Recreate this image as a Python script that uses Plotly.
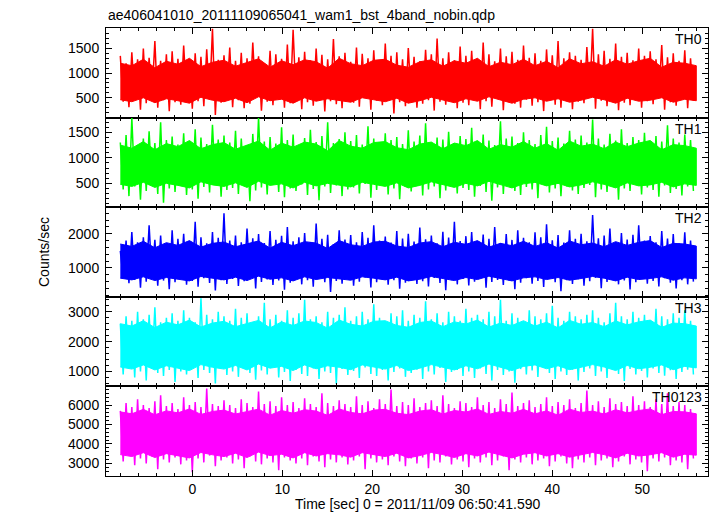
import plotly.graph_objects as go

# ---------------- data ----------------
T_START = -8.0      # sec, first sample
T_STEP = 0.32       # sec between consecutive samples (alternating max / min)
T_CORE = 1.28       # sec between samples of the dense-core envelope

panel_names = ["TH0", "TH1", "TH2", "TH3", "TH0123"]
panel_colors = ["#ff0000", "#00ff00", "#0000ff", "#00ffff", "#ff00ff"]

th0_hi = [1350, 1200, 1420, 1280, 1500, 1310, 1650, 1250, 1380, 1440,
          1290, 1560, 1230, 1400, 1330, 1480, 1900, 1270, 1360, 1520,
          1250, 1410, 1300, 1620, 1340, 1200, 1450, 1380, 1290, 1580,
          1880, 1320, 1430, 1260, 1500, 1370, 1280, 1690, 1340, 1410,
          1230, 1520, 1390, 1300, 1460, 1250, 1600, 1350, 1420, 1280,
          1510, 1330, 1240, 1470, 1380, 1700, 1300, 1420, 1260, 1540,
          1350, 1450, 1290, 1620, 1380, 1240, 1500, 1340, 1430, 1270,
          1560, 1310, 1400, 1250, 1480, 1360, 1650, 1300, 1420, 1350,
          1270, 1530, 1900, 1380, 1450, 1290, 1600, 1330, 1410, 1260,
          1500, 1350, 1440, 1280, 1570, 1320, 1400, 1250, 1460, 1300]
th0_lo = [420, 310, 480, 260, 390, 520, 300, 450, 230, 410,
          360, 500, 280, 430, 330, 470, 150, 400, 540, 310,
          450, 290, 380, 500, 240, 420, 350, 460, 300, 390,
          510, 270, 410, 340, 480, 220, 430, 370, 290, 460,
          400, 320, 520, 260, 440, 350, 470, 180, 410, 330,
          490, 300, 380, 450, 240, 420, 360, 510, 290, 400,
          350, 470, 270, 430, 320, 500, 250, 440, 380, 300,
          460, 340, 410, 230, 480, 360, 300, 450, 270, 420,
          390, 510, 280, 440, 330, 470, 250, 400, 350, 460,
          300, 430, 370, 520, 260, 410, 340, 480, 290, 440]
th0_core_top = [1200, 1150, 1280, 1110, 1240, 1180, 1300, 1130, 1220, 1260,
                1140, 1210, 1290, 1120, 1250, 1170, 1270, 1230, 1100, 1300,
                1190, 1150, 1260, 1280, 1160, 1120, 1230, 1270, 1140, 1250,
                1200, 1300, 1130, 1220, 1170, 1280, 1150, 1240, 1110, 1290,
                1190, 1230, 1140, 1270, 1180, 1250, 1300, 1120, 1220, 1200, 1150]
th0_core_bot = [460, 420, 500, 400, 480, 440, 390, 510, 450, 420,
                490, 400, 520, 440, 470, 390, 500, 430, 480, 450,
                410, 500, 460, 420, 490, 390, 440, 510, 460, 400,
                480, 430, 520, 450, 390, 470, 500, 430, 480, 410,
                450, 510, 460, 390, 490, 430, 450, 500, 410, 470, 440]

th1_hi = [1300, 1450, 1780, 1250, 1380, 1520, 1290, 1700, 1350, 1420,
          1260, 1480, 1330, 1560, 1400, 1270, 1650, 1360, 1440, 1300,
          1530, 1380, 1250, 1470, 1790, 1320, 1410, 1280, 1600, 1350,
          1460, 1240, 1390, 1550, 1310, 1430, 1700, 1290, 1370, 1500,
          1330, 1450, 1260, 1620, 1380, 1300, 1480, 1350, 1410, 1270,
          1540, 1320, 1440, 1680, 1290, 1400, 1360, 1510, 1250, 1430,
          1370, 1590, 1300, 1460, 1340, 1250, 1720, 1380, 1420, 1290,
          1500, 1350, 1270, 1450, 1610, 1330, 1400, 1280, 1530, 1360,
          1440, 1300, 1750, 1380, 1260, 1470, 1340, 1560, 1290, 1410,
          1350, 1490, 1270, 1430, 1320, 1640, 1380, 1300, 1460, 1350]
th1_lo = [380, 250, 440, 180, 350, 470, 290, 120, 400, 330,
          460, 270, 380, 200, 430, 320, 480, 240, 370, 410,
          290, 450, 150, 360, 420, 280, 470, 330, 230, 400,
          350, 480, 270, 390, 170, 440, 310, 460, 250, 380,
          420, 300, 490, 220, 370, 450, 280, 400, 190, 430,
          340, 470, 260, 380, 440, 210, 360, 480, 300, 410,
          370, 240, 450, 330, 160, 420, 290, 460, 350, 270,
          430, 380, 210, 470, 320, 400, 250, 440, 360, 290,
          410, 470, 230, 380, 330, 450, 180, 400, 350, 480,
          280, 420, 370, 240, 460, 310, 390, 260, 440, 350]
th1_core_top = [1250, 1190, 1320, 1160, 1280, 1220, 1340, 1180, 1260, 1300,
                1170, 1250, 1330, 1150, 1290, 1210, 1310, 1270, 1140, 1340,
                1230, 1190, 1300, 1320, 1200, 1160, 1270, 1310, 1180, 1290,
                1240, 1340, 1170, 1260, 1210, 1320, 1190, 1280, 1150, 1330,
                1230, 1270, 1180, 1310, 1220, 1290, 1340, 1160, 1260, 1240, 1190]
th1_core_bot = [480, 440, 520, 420, 500, 460, 410, 530, 470, 440,
                510, 420, 540, 460, 490, 410, 520, 450, 500, 470,
                430, 520, 480, 440, 510, 410, 460, 530, 480, 420,
                500, 450, 540, 470, 410, 490, 520, 450, 500, 430,
                470, 530, 480, 410, 510, 450, 470, 520, 430, 490, 460]

th2_hi = [1500, 1800, 2050, 1750, 1900, 2250, 1820, 1950, 1700, 2100,
          1850, 2000, 1780, 2350, 1900, 1720, 2050, 1880, 2600, 1800,
          1950, 1750, 2150, 1870, 1990, 1730, 2080, 1820, 1940, 2200,
          1780, 1900, 2020, 1760, 2300, 1850, 1970, 1700, 2100, 1830,
          1960, 1750, 2050, 1880, 2250, 1800, 1920, 1740, 2080, 1860,
          2000, 1770, 2180, 1840, 1950, 1720, 2060, 1890, 2350, 1790,
          1930, 2050, 1760, 1980, 1850, 2200, 1730, 1990, 1820, 2100,
          1880, 1750, 2040, 1900, 2280, 1810, 1960, 1740, 2100, 1850,
          2000, 1780, 2550, 1870, 1950, 2150, 1760, 2020, 1830, 1970,
          2250, 1800, 1930, 1750, 2080, 1860, 1990, 1720, 2040, 1800]
th2_lo = [700, 550, 650, 420, 600, 720, 480, 630, 380, 580,
          690, 510, 620, 450, 700, 560, 340, 640, 530, 680,
          470, 610, 720, 400, 590, 660, 500, 630, 360, 570,
          680, 520, 640, 450, 700, 580, 300, 620, 540, 690,
          480, 600, 720, 430, 580, 660, 510, 640, 390, 570,
          690, 530, 610, 460, 710, 560, 350, 640, 520, 680,
          490, 600, 720, 420, 590, 650, 500, 630, 380, 570,
          700, 540, 620, 440, 690, 580, 320, 640, 530, 670,
          480, 610, 710, 410, 590, 660, 520, 630, 370, 580,
          690, 540, 620, 460, 700, 570, 400, 640, 520, 600]
th2_core_top = [1700, 1630, 1780, 1590, 1740, 1660, 1800, 1610, 1720, 1760,
                1620, 1700, 1790, 1580, 1750, 1650, 1770, 1730, 1570, 1800,
                1680, 1630, 1760, 1780, 1640, 1600, 1730, 1770, 1620, 1750,
                1690, 1800, 1610, 1720, 1650, 1780, 1630, 1740, 1580, 1790,
                1680, 1730, 1620, 1770, 1660, 1750, 1800, 1600, 1720, 1700, 1640]
th2_core_bot = [700, 650, 740, 630, 720, 670, 620, 750, 690, 650,
                730, 630, 760, 670, 710, 620, 740, 660, 720, 690,
                640, 740, 700, 650, 730, 620, 670, 750, 700, 630,
                720, 660, 760, 690, 620, 710, 740, 660, 720, 640,
                690, 750, 700, 620, 730, 660, 690, 740, 640, 710, 680]

th3_hi = [2600, 2850, 2700, 3000, 2750, 2900, 3150, 2650, 2800, 2950,
          2700, 3050, 2800, 2650, 3450, 2900, 2750, 3000, 2850, 2700,
          3100, 2800, 2950, 2650, 2850, 3300, 2750, 2900, 2700, 3050,
          2800, 2950, 3400, 2750, 2850, 2650, 3000, 2800, 2900, 3150,
          2700, 2850, 3000, 2750, 3250, 2800, 2650, 2950, 2850, 3050,
          2700, 2900, 2800, 3350, 2750, 2950, 2650, 3000, 2850, 2700,
          3100, 2800, 2900, 2750, 3000, 2850, 3400, 2700, 2950, 2800,
          2650, 3050, 2850, 2750, 2950, 3200, 2800, 2700, 3000, 2850,
          2750, 2900, 3050, 2800, 2650, 2950, 3300, 2850, 2750, 3000,
          2800, 2900, 2700, 3100, 2850, 2750, 2950, 2800, 3050, 2700]
th3_lo = [900, 1100, 800, 1000, 700, 1150, 950, 850, 1050, 650,
          1000, 900, 1120, 780, 1050, 950, 600, 1100, 880, 1000,
          820, 1080, 950, 720, 1030, 900, 1150, 800, 980, 680,
          1050, 920, 850, 1100, 750, 1000, 950, 580, 1080, 880,
          1020, 780, 1130, 920, 850, 1050, 700, 980, 1100, 820,
          950, 1060, 750, 1000, 900, 1120, 650, 980, 1050, 850,
          1000, 780, 1100, 920, 700, 1050, 880, 1000, 620, 1080,
          900, 1030, 820, 1120, 950, 750, 1000, 880, 1060, 700,
          980, 1100, 850, 1000, 780, 1050, 920, 680, 1080, 900,
          1020, 800, 1100, 950, 860, 1040, 750, 980, 1060, 900]
th3_core_top = [2600, 2520, 2700, 2470, 2650, 2560, 2720, 2490, 2620, 2680,
                2500, 2600, 2710, 2460, 2660, 2540, 2690, 2640, 2450, 2720,
                2580, 2520, 2680, 2700, 2540, 2480, 2640, 2690, 2500, 2660,
                2590, 2720, 2490, 2620, 2540, 2700, 2520, 2650, 2460, 2710,
                2580, 2640, 2500, 2690, 2560, 2660, 2720, 2480, 2620, 2600, 2520]
th3_core_bot = [1150, 1080, 1220, 1050, 1190, 1110, 1030, 1230, 1140, 1080,
                1200, 1050, 1250, 1110, 1170, 1030, 1220, 1090, 1190, 1140,
                1060, 1220, 1150, 1080, 1200, 1030, 1110, 1230, 1150, 1050,
                1190, 1090, 1250, 1140, 1030, 1170, 1220, 1090, 1190, 1060,
                1140, 1230, 1150, 1030, 1200, 1090, 1140, 1220, 1060, 1170, 1120]

th0123_hi = [5700, 6100, 5900, 6300, 6000, 5850, 6200, 6500, 5950, 6100,
             5800, 6400, 6000, 6150, 5900, 6850, 6050, 5950, 6250, 6000,
             5850, 6300, 6100, 5900, 6700, 6050, 6200, 5950, 6400, 6000,
             6150, 5850, 6350, 6050, 5900, 6600, 6100, 5950, 6250, 6050,
             5900, 6450, 6000, 6200, 5850, 6300, 6050, 6800, 5950, 6150,
             6000, 6350, 5900, 6100, 6250, 5950, 6500, 6050, 5850, 6200,
             6100, 5900, 6400, 6000, 6150, 5850, 6300, 6050, 6650, 5950,
             6100, 6250, 5900, 6050, 6400, 5950, 6150, 6000, 6300, 5850,
             6100, 6750, 6000, 6200, 5900, 6350, 6050, 6150, 5950, 6450,
             6000, 6200, 5900, 6300, 6050, 6600, 5950, 6150, 6000, 5800]
th0123_lo = [3100, 3400, 2900, 3250, 3000, 3350, 2700, 3200, 3050, 3300,
             2950, 3150, 2550, 3250, 3050, 3400, 2850, 3150, 3300, 3000,
             3200, 2750, 3350, 3100, 2950, 3250, 3050, 2650, 3300, 3150,
             3000, 3250, 2900, 3350, 3100, 2800, 3200, 3050, 3300, 2950,
             3150, 3350, 2700, 3250, 3050, 3200, 2900, 3350, 3100, 2850,
             3250, 3000, 3300, 2750, 3150, 3050, 3350, 2950, 3200, 3100,
             2800, 3250, 3050, 3300, 2900, 3150, 3350, 2650, 3200, 3050,
             3300, 2950, 3150, 3250, 2850, 3100, 3350, 3000, 2750, 3200,
             3050, 3300, 2900, 3150, 3250, 2800, 3100, 3350, 2950, 3200,
             3050, 2600, 3250, 3100, 3300, 2900, 3150, 3050, 2700, 3250]
th0123_core_top = [5650, 5550, 5780, 5500, 5700, 5600, 5800, 5520, 5670, 5740,
                   5540, 5650, 5790, 5480, 5720, 5580, 5760, 5690, 5470, 5800,
                   5620, 5550, 5740, 5780, 5580, 5510, 5690, 5760, 5540, 5720,
                   5640, 5800, 5520, 5670, 5580, 5780, 5550, 5700, 5480, 5790,
                   5620, 5690, 5540, 5760, 5600, 5720, 5800, 5510, 5670, 5650, 5550]
th0123_core_bot = [3450, 3350, 3550, 3300, 3500, 3400, 3280, 3560, 3440, 3350,
                   3520, 3300, 3580, 3400, 3470, 3280, 3550, 3380, 3500, 3440,
                   3320, 3550, 3450, 3350, 3520, 3280, 3400, 3560, 3450, 3300,
                   3500, 3380, 3580, 3440, 3280, 3470, 3550, 3380, 3500, 3320,
                   3440, 3560, 3450, 3280, 3520, 3380, 3440, 3550, 3320, 3470, 3420]

# axis settings per panel
y_ranges = [[98, 1914], [32, 1790], [155, 2778], [500, 3500], [2350, 6960]]
y_dticks = [500, 500, 1000, 1000, 1000]
y_minor = [100, 100, 200, 200, 200]
x_range = [-9.59, 57.3]

title_text = "ae406041010_20111109065041_wam1_bst_4band_nobin.qdp"
x_title = "Time [sec] 0 = 2011/11/09 06:50:41.590"
y_title = "Counts/sec"

series = [
    (th0_hi, th0_lo, th0_core_top, th0_core_bot),
    (th1_hi, th1_lo, th1_core_top, th1_core_bot),
    (th2_hi, th2_lo, th2_core_top, th2_core_bot),
    (th3_hi, th3_lo, th3_core_top, th3_core_bot),
    (th0123_hi, th0123_lo, th0123_core_top, th0123_core_bot),
]

FONT = "Liberation Sans, Arial, Helvetica, sans-serif"

fig = go.Figure()
n = len(panel_names)
annotations = []
for i, (hi, lo, ctop, cbot) in enumerate(series):
    suffix = "" if i == 0 else str(i + 1)
    color = panel_colors[i]
    # dense core of the light curve (filled between its upper/lower envelope)
    t_core = [T_START + T_CORE * k for k in range(len(ctop))]
    fig.add_trace(go.Scatter(
        x=t_core + t_core[::-1], y=list(ctop) + list(cbot)[::-1],
        mode="lines", fill="toself", fillcolor=color,
        line=dict(color=color, width=1),
        xaxis="x" + suffix, yaxis="y" + suffix,
        showlegend=False, hoverinfo="skip"))
    # individual excursions: alternating max / min samples
    ys = []
    for h, l in zip(hi, lo):
        ys.append(h)
        ys.append(l)
    ts = [T_START + T_STEP * k for k in range(len(ys))]
    fig.add_trace(go.Scatter(
        x=ts, y=ys, mode="lines",
        line=dict(color=color, width=1.5),
        xaxis="x" + suffix, yaxis="y" + suffix,
        showlegend=False, hoverinfo="skip"))
    top = 1 - i / n
    bot = 1 - (i + 1) / n
    fig.layout["xaxis" + suffix] = dict(
        range=x_range, anchor="y" + suffix, domain=[0, 1],
        tick0=0, dtick=10, ticks="inside", ticklen=6, tickcolor="black",
        minor=dict(ticks="inside", dtick=2, ticklen=3, tickcolor="black"),
        showline=True, linecolor="black", linewidth=1, mirror="allticks",
        showgrid=False, zeroline=False,
        showticklabels=(i == n - 1),
        tickfont=dict(family=FONT, size=14, color="black"),
        **({} if i == 0 else {"matches": "x"}))
    fig.layout["yaxis" + suffix] = dict(
        range=y_ranges[i], anchor="x" + suffix, domain=[bot, top],
        tick0=0, dtick=y_dticks[i], ticks="inside", ticklen=6, tickcolor="black",
        minor=dict(ticks="inside", dtick=y_minor[i], ticklen=3, tickcolor="black"),
        showline=True, linecolor="black", linewidth=1, mirror="allticks",
        showgrid=False, zeroline=False, ticklabelstandoff=3,
        tickfont=dict(family=FONT, size=14, color="black"))
    annotations.append(dict(
        text=panel_names[i], xref="paper", yref="paper",
        x=1, y=top, xanchor="right", yanchor="top", xshift=-4, yshift=-1,
        showarrow=False, font=dict(family=FONT, size=14, color="black")))

annotations.append(dict(
    text=title_text, xref="paper", yref="paper", x=0, y=1,
    xanchor="left", yanchor="bottom", xshift=0, yshift=3,
    showarrow=False, font=dict(family=FONT, size=14, color="black")))
annotations.append(dict(
    text=x_title, xref="paper", yref="paper", x=0.518, y=0,
    xanchor="center", yanchor="top", yshift=-18,
    showarrow=False, font=dict(family=FONT, size=14, color="black")))
annotations.append(dict(
    text=y_title, xref="paper", yref="paper", x=0, y=0.5,
    xanchor="center", yanchor="middle", xshift=-62, textangle=-90,
    showarrow=False, font=dict(family=FONT, size=14, color="black")))

# page body has an 8px margin, so the figure is 8px smaller and shifted
fig.update_layout(
    width=709, height=508,
    margin=dict(l=98, r=9, t=20, b=40),
    paper_bgcolor="white", plot_bgcolor="white",
    annotations=annotations,
    font=dict(family=FONT, size=14, color="black"),
)

fig.write_html("out.html")
